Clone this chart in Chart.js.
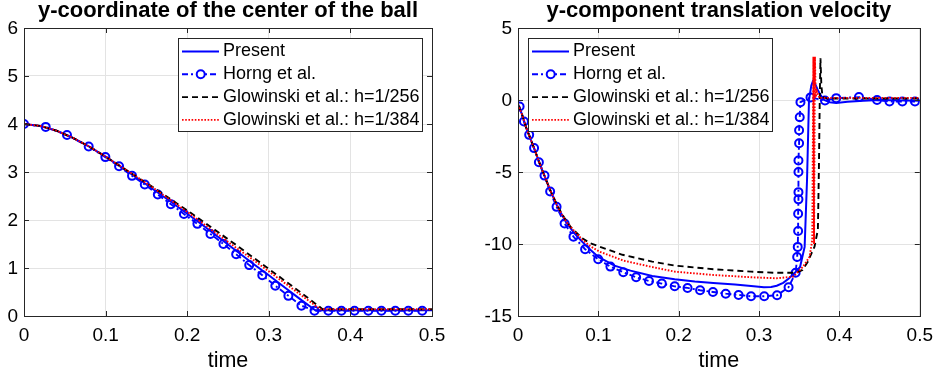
<!DOCTYPE html>
<html>
<head>
<meta charset="utf-8">
<script src="https://cdn.jsdelivr.net/npm/chart.js@4"></script>
<style>
html,body{margin:0;padding:0;background:#fff}
#wrap{position:relative;width:941px;height:374px}
#c1{position:absolute;left:0;top:0}
#c2{position:absolute;left:470px;top:0}
</style>
</head>
<body>
<div id="wrap">
  <canvas id="c1" width="470" height="374"></canvas>
  <canvas id="c2" width="471" height="374"></canvas>
</div>
<script>
// legend labels
const seriesNames = ['Present', 'Horng et al.', 'Glowinski et al.: h=1/256', 'Glowinski et al.: h=1/384']
const titles = ['y-coordinate of the center of the ball', 'y-component translation velocity']

// left panel: y-coordinate of the ball centre
const posPresentT = [0,0.02,0.04,0.06,0.08,0.1,0.12,0.14,0.16,0.18,0.2,0.22,0.24,0.26,0.28,0.3,0.32,0.34,0.357,0.4,0.45,0.5]
const posPresentY = [4.0,3.96,3.86,3.71,3.53,3.32,3.09,2.86,2.62,2.38,2.13,1.88,1.62,1.36,1.1,0.85,0.59,0.33,0.12,0.12,0.12,0.12]
const posHorngT = [0,0.0266,0.0527,0.0793,0.0997,0.1165,0.1324,0.148,0.164,0.18,0.196,0.2125,0.2285,0.2444,0.26,0.276,0.292,0.308,0.324,0.34,0.356,0.373,0.389,0.405,0.422,0.438,0.455,0.471,0.488]
const posHorngY = [4.0,3.94,3.77,3.53,3.31,3.12,2.92,2.74,2.53,2.33,2.125,1.92,1.71,1.5,1.285,1.06,0.85,0.63,0.42,0.215,0.11,0.11,0.11,0.11,0.11,0.11,0.11,0.11,0.11]
const posG256T = [0,0.02,0.04,0.06,0.08,0.1,0.12,0.14,0.16,0.18,0.2,0.22,0.24,0.26,0.28,0.3,0.32,0.34,0.36,0.366,0.4,0.45,0.5]
const posG256Y = [4.0,3.96,3.86,3.71,3.53,3.32,3.1,2.88,2.66,2.43,2.2,1.96,1.72,1.48,1.23,0.98,0.73,0.48,0.22,0.14,0.14,0.14,0.14]
const posG384T = [0,0.02,0.04,0.06,0.08,0.1,0.12,0.14,0.16,0.18,0.2,0.22,0.24,0.26,0.28,0.3,0.32,0.34,0.36,0.363,0.4,0.45,0.5]
const posG384Y = [4.0,3.96,3.86,3.71,3.53,3.32,3.1,2.88,2.65,2.41,2.17,1.92,1.67,1.42,1.18,0.93,0.68,0.43,0.18,0.14,0.14,0.14,0.14]

// right panel: y-velocity
const velPresentT = [0,0.005,0.01,0.02,0.03,0.04,0.05,0.06,0.07,0.08,0.09,0.1,0.12,0.14,0.167,0.195,0.22,0.243,0.27,0.29,0.306,0.315,0.322,0.33,0.337,0.3445,0.351,0.3567,0.3597,0.3621,0.365,0.367,0.37,0.373,0.377,0.381,0.388,0.396,0.41,0.43,0.45,0.5]
const velPresentV = [-0.3,-1.0,-1.9,-3.35,-4.85,-6.25,-7.5,-8.5,-9.25,-9.85,-10.4,-10.9,-11.5,-11.85,-12.22,-12.45,-12.6,-12.7,-12.82,-12.92,-13.0,-12.98,-12.9,-12.7,-12.4,-12.0,-11.6,-10.2,-5.5,0,1.0,1.3,1.1,0.7,0.3,0.0,-0.15,-0.2,-0.12,-0.05,0.0,-0.05]
const velHorngT = [0.002,0.0074,0.0139,0.02,0.026,0.033,0.04,0.048,0.058,0.069,0.0835,0.0998,0.115,0.131,0.147,0.163,0.179,0.195,0.211,0.2266,0.2426,0.2585,0.2745,0.29,0.3064,0.3224,0.3367,0.3455,0.3474,0.3481,0.3486,0.3486,0.349,0.349,0.349,0.349,0.3498,0.3498,0.3506,0.3515,0.364,0.382,0.396,0.4243,0.4468,0.4623,0.4783,0.494]
const velHorngV = [-0.45,-1.49,-2.42,-3.34,-4.32,-5.25,-6.36,-7.42,-8.58,-9.49,-10.36,-11.06,-11.57,-11.96,-12.31,-12.57,-12.75,-12.94,-13.05,-13.21,-13.33,-13.45,-13.54,-13.63,-13.63,-13.56,-13.0,-12.0,-10.9,-10.2,-9.1,-7.9,-6.9,-6.4,-5.0,-4.2,-3.0,-2.1,-1.2,-0.15,0.18,-0.03,0.13,0.2,0.0,-0.1,-0.1,-0.1]
const velG256T = [0,0.005,0.01,0.02,0.03,0.04,0.05,0.06,0.0667,0.08,0.09,0.1014,0.13,0.167,0.195,0.243,0.29,0.32,0.3465,0.354,0.3608,0.369,0.3732,0.3744,0.3755,0.3764,0.3775,0.379,0.385,0.45,0.5]
const velG256V = [-0.3,-1.0,-1.9,-3.35,-4.85,-6.25,-7.45,-8.4,-8.9,-9.6,-9.95,-10.18,-10.75,-11.22,-11.5,-11.75,-11.92,-12.0,-12.0,-11.8,-11.22,-10.18,-9.0,-5.0,0,2.9,1.0,0.2,0.1,0.1,0.1]
const velG384T = [0,0.005,0.01,0.02,0.03,0.04,0.05,0.06,0.07,0.08,0.09,0.1014,0.131,0.167,0.195,0.243,0.29,0.322,0.3425,0.3548,0.3629,0.3662,0.3676,0.3684,0.3695,0.3705,0.372,0.375,0.45,0.5]
const velG384V = [-0.3,-1.0,-1.9,-3.35,-4.85,-6.25,-7.5,-8.45,-9.1,-9.7,-10.15,-10.53,-11.15,-11.6,-11.92,-12.15,-12.31,-12.38,-12.27,-11.57,-10.88,-9.72,3.0,-10.0,3.0,0.2,0.6,0.15,0.15,0.15]

const FONT = '"Liberation Sans", Arial, Helvetica, sans-serif'
Chart.defaults.font.family = FONT
Chart.defaults.color = '#000'

const pts = (T, V) => T.map((t, i) => ({x: t, y: V[i]}))

function makeSets(sets){
  return [
    {label: seriesNames[0], data: sets[0], borderColor:'#0000ff', borderWidth:2, pointRadius:0, order:4},
    {label: seriesNames[1], data: sets[1], borderColor:'#0000ff', borderWidth:1.9, borderDash:[6,3,2,3],
      pointRadius:4, pointBorderWidth:2, pointBorderColor:'#0000ff', pointBackgroundColor:'rgba(0,0,0,0)', order:3},
    {label: seriesNames[2], data: sets[2], borderColor:'#000000', borderWidth:1.9, borderDash:[6,4], pointRadius:0, order:2},
    {label: seriesNames[3], data: sets[3], borderColor:'#ff0000', borderWidth:1.9, borderDash:[1.6,1.6], pointRadius:0, order:1},
  ]
}

// axes box, inward ticks and the legend box inside the plot
const frame = {
  id: 'frame',
  afterDatasetsDraw(chart){
    const {ctx, chartArea:a, scales} = chart
    ctx.save()
    ctx.strokeStyle = '#262626'
    ctx.lineWidth = 1
    ctx.strokeRect(Math.round(a.left)+0.5, Math.round(a.top)+0.5, Math.round(a.right-a.left), Math.round(a.bottom-a.top))
    ctx.beginPath()
    scales.x.ticks.forEach(t => {
      const px = Math.round(scales.x.getPixelForValue(t.value)) + 0.5
      ctx.moveTo(px, a.bottom); ctx.lineTo(px, a.bottom-5)
      ctx.moveTo(px, a.top); ctx.lineTo(px, a.top+5)
    })
    scales.y.ticks.forEach(t => {
      const py = Math.round(scales.y.getPixelForValue(t.value)) + 0.5
      ctx.moveTo(a.left, py); ctx.lineTo(a.left+5, py)
      ctx.moveTo(a.right, py); ctx.lineTo(a.right-5, py)
    })
    ctx.stroke()

    const side = chart.options.plugins.frame.side
    const w = 244, h = 93
    const x0 = Math.round(side === 'right' ? a.right - 10 - w : a.left + 10)
    const y0 = Math.round(a.top + 10)
    ctx.fillStyle = '#fff'
    ctx.fillRect(x0, y0, w, h)
    ctx.strokeRect(x0+0.5, y0+0.5, w, h)
    ctx.font = '18px ' + FONT
    ctx.textBaseline = 'middle'
    chart.data.datasets.forEach((ds, i) => {
      const y = y0 + 13.5 + i*22.8
      ctx.strokeStyle = ds.borderColor
      ctx.lineWidth = ds.borderWidth
      ctx.setLineDash(ds.borderDash || [])
      ctx.beginPath(); ctx.moveTo(x0+4, y); ctx.lineTo(x0+41, y); ctx.stroke()
      if(ds.pointRadius > 0){
        ctx.setLineDash([])
        ctx.lineWidth = ds.pointBorderWidth
        ctx.fillStyle = '#fff'
        ctx.beginPath(); ctx.arc(x0+22.7, y, ds.pointRadius, 0, 2*Math.PI); ctx.fill(); ctx.stroke()
      }
      ctx.setLineDash([])
      ctx.fillStyle = '#000'
      ctx.fillText(ds.label, x0+45, y)
    })
    ctx.restore()
  }
}

function makeChart(id, title, sets, yMin, yMax, yStep, yWidth, padRight, side){
  return new Chart(document.getElementById(id), {
    type: 'line',
    data: {datasets: makeSets(sets)},
    options: {
      responsive: false, animation: false, devicePixelRatio: 1,
      layout: {padding: {left:0, right:padRight, top:0, bottom:0}},
      elements: {line: {tension: 0, fill: false}},
      plugins: {
        legend: {display: false}, tooltip: {enabled: false},
        title: {display: true, text: title, fullSize: false, color:'#000',
          font: {size: 22, weight: 'bold', lineHeight: 1}, padding: {top: 0, bottom: 6}},
        frame: {side}
      },
      scales: {
        x: {type:'linear', min:0, max:0.5,
          ticks: {stepSize:0.1, font:{size:19}, color:'#000', padding:8, maxRotation:0},
          grid: {color:'#e3e3e3', drawTicks:false}, border: {display:false},
          title: {display:true, text:'time', font:{size:21.5, lineHeight:1.2}, color:'#000', padding:0},
          afterFit(s){ s.height = 58 }},
        y: {type:'linear', min:yMin, max:yMax,
          ticks: {stepSize:yStep, font:{size:19}, color:'#000', padding:6, labelOffset:1},
          grid: {color:'#e3e3e3', drawTicks:false}, border: {display:false},
          afterFit(s){ s.width = yWidth }}
      }
    },
    plugins: [frame]
  })
}

makeChart('c1', titles[0],
  [pts(posPresentT, posPresentY), pts(posHorngT, posHorngY), pts(posG256T, posG256Y), pts(posG384T, posG384Y)],
  0, 6, 1, 24, 38, 'right')
makeChart('c2', titles[1],
  [pts(velPresentT, velPresentV), pts(velHorngT, velHorngV), pts(velG256T, velG256V), pts(velG384T, velG384V)],
  -15, 5, 5, 48, 16, 'left')
</script>
</body>
</html>
